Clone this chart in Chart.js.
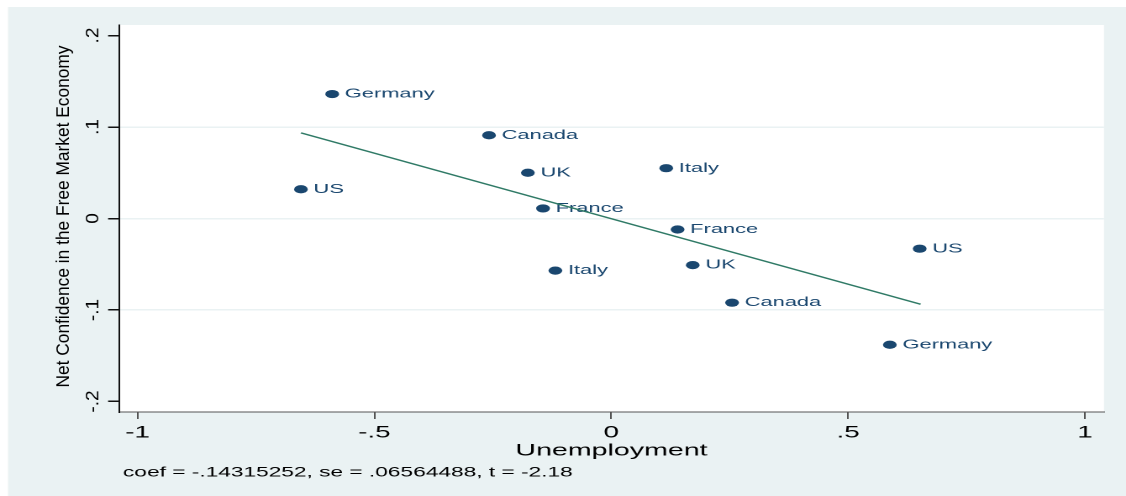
<!DOCTYPE html>
<html>
<head>
    <title>Added-variable plot</title>
    <script src="https://cdn.jsdelivr.net/npm/chart.js@4.4.0/dist/chart.umd.min.js"></script>
</head>
<body>
    <div id="wrap">
        <canvas id="avplot"></canvas>
    </div>
    <script>
        // datos (residuos del avplot)
        const countries = ['Germany', 'US', 'Canada', 'UK', 'France', 'Italy',
                           'Italy', 'France', 'UK', 'Canada', 'US', 'Germany'];
        const unemployment = [-0.589, -0.655, -0.258, -0.176, -0.144, -0.118,
                              0.116, 0.140, 0.172, 0.255, 0.651, 0.588];
        const confidence = [0.136, 0.032, 0.091, 0.050, 0.011, -0.057,
                            0.055, -0.012, -0.051, -0.092, -0.033, -0.138];
        // recta ajustada (extremos)
        const fitX = [-0.655, 0.653];
        const fitY = [0.0936, -0.0937];
        const xTicks = [-1, -0.5, 0, 0.5, 1];
        const xTickLabels = ['-1', '-.5', '0', '.5', '1'];
        const yTicks = [-0.2, -0.1, 0, 0.1, 0.2];
        const yTickLabels = ['-.2', '-.1', '0', '.1', '.2'];
        const yTitle = 'Net Confidence in the Free Market Economy';
        const xTitle = 'Unemployment';
        const note = 'coef = -.14315252, se = .06564488, t = -2.18';

        const S = 1126 / 670; // la imagen original esta estirada en horizontal
        const FONT = "'Liberation Sans', Arial, sans-serif";
        const NAVY = '#1a476f';

        const puntos = unemployment.map((x, i) => ({x: x, y: confidence[i]}));
        const recta = fitX.map((x, i) => ({x: x, y: fitY[i]}));

        const fondo = {
            id: 'fondo',
            beforeDraw(chart) {
                const ctx = chart.ctx, a = chart.chartArea;
                ctx.save();
                ctx.fillStyle = '#eaf2f3';
                ctx.fillRect(8 / S, 7, chart.width, chart.height);
                ctx.fillStyle = '#ffffff';
                ctx.fillRect(a.left, a.top, a.right - a.left, a.bottom - a.top);
                ctx.restore();
            },
            afterDatasetDraw(chart, args) {
                if (args.index !== 1) return;
                const ctx = chart.ctx;
                ctx.save();
                ctx.font = '13px ' + FONT;
                ctx.fillStyle = NAVY;
                ctx.textAlign = 'left';
                ctx.textBaseline = 'middle';
                args.meta.data.forEach((p, i) => {
                    ctx.fillText(countries[i], p.x + 7.5, p.y);
                });
                ctx.restore();
            },
            afterDraw(chart) {
                const ctx = chart.ctx, a = chart.chartArea;
                const yScale = chart.scales.y;
                ctx.save();
                ctx.fillStyle = '#000';
                ctx.textAlign = 'center';
                ctx.textBaseline = 'middle';
                // etiquetas del eje y giradas (sin estirar)
                ctx.font = '19px ' + FONT;
                yTicks.forEach((v, i) => {
                    ctx.save();
                    ctx.translate(93 / S, yScale.getPixelForValue(v));
                    ctx.scale(1 / S, 1);
                    ctx.rotate(-Math.PI / 2);
                    ctx.fillText(yTickLabels[i], 0, 0);
                    ctx.restore();
                });
                // titulo del eje y
                ctx.save();
                ctx.font = '18px ' + FONT;
                ctx.translate(64 / S, (a.top + a.bottom) / 2 - 2);
                ctx.scale(1 / S, 1);
                ctx.rotate(-Math.PI / 2);
                ctx.fillText(yTitle, 0, 0, 342);
                ctx.restore();
                // nota
                ctx.font = '13.5px ' + FONT;
                ctx.textAlign = 'left';
                ctx.fillText(note, a.left + 4 / S, 473);
                ctx.restore();
            }
        };

        new Chart(document.getElementById('avplot'), {
            type: 'scatter',
            data: {
                datasets: [{
                    type: 'line',
                    data: recta,
                    borderColor: '#2f7a66',
                    borderWidth: 1.4,
                    pointRadius: 0,
                    fill: false
                }, {
                    data: puntos,
                    backgroundColor: NAVY,
                    borderColor: NAVY,
                    borderWidth: 0,
                    pointRadius: 4.1
                }]
            },
            options: {
                responsive: true,
                maintainAspectRatio: false,
                animation: false,
                devicePixelRatio: 2,
                layout: { padding: { left: 0, right: 13.1, top: 25, bottom: 35 } },
                plugins: {
                    legend: { display: false },
                    tooltip: { enabled: false }
                },
                scales: {
                    x: {
                        type: 'linear',
                        min: -1.039,
                        max: 1.04,
                        afterBuildTicks: s => { s.ticks = xTicks.map(v => ({value: v})); },
                        afterFit: s => { s.height = 49; },
                        ticks: {
                            callback: (v, i) => xTickLabels[i],
                            font: { family: FONT, size: 16.5 },
                            color: '#000',
                            padding: 4,
                            maxRotation: 0,
                            autoSkip: false
                        },
                        grid: {
                            drawOnChartArea: false,
                            drawTicks: true,
                            tickLength: 7,
                            tickColor: '#555'
                        },
                        border: { color: '#555', width: 1 },
                        title: {
                            display: true,
                            text: xTitle,
                            color: '#000',
                            font: { family: FONT, size: 17 },
                            padding: { top: 0, bottom: 0 }
                        }
                    },
                    y: {
                        type: 'linear',
                        min: -0.2115,
                        max: 0.2115,
                        afterBuildTicks: s => { s.ticks = yTicks.map(v => ({value: v})); },
                        afterFit: s => { s.width = 70.8; },
                        ticks: { display: false },
                        grid: {
                            color: c => (c.tick && Math.abs(c.tick.value) < 0.15) ? '#eaf2f3' : 'rgba(0,0,0,0)',
                            lineWidth: 1.5,
                            drawTicks: true,
                            tickLength: 6.5,
                            tickColor: '#111'
                        },
                        border: { color: '#111', width: 1 }
                    }
                }
            },
            plugins: [fondo]
        });
    </script>
    <style>
        body {
            margin: 0;
            padding: 0;
            overflow: hidden;
            background-color: #ffffff;
        }
        #wrap {
            position: absolute;
            left: 0;
            top: 0;
            width: 670px;
            height: 496px;
            transform: scaleX(1.6806);
            transform-origin: 0 0;
        }
    </style>
</body>
</html>
